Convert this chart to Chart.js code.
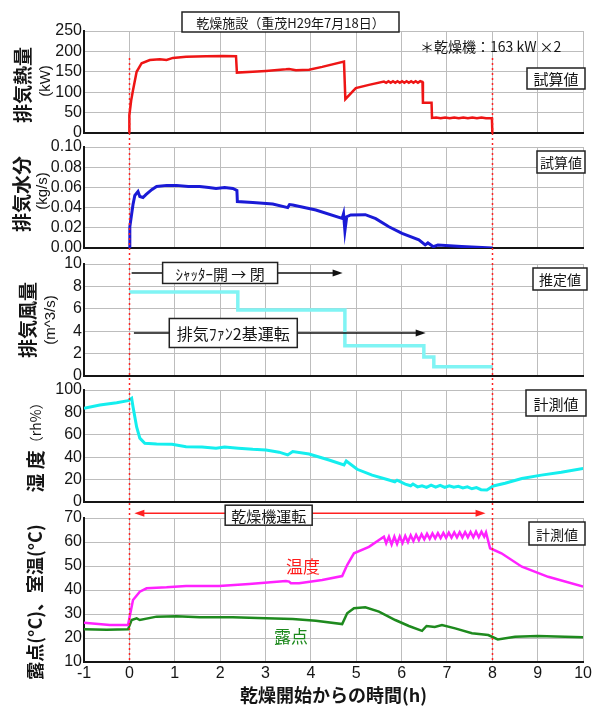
<!DOCTYPE html>
<html>
<head>
<meta charset="utf-8">
<script src="https://cdn.jsdelivr.net/npm/chart.js@4.4.1/dist/chart.umd.min.js"></script>
<style>
  body { margin: 0; background: #fff; }
  #wrap { position: relative; width: 594px; height: 706px; }
  #wrap canvas { position: absolute; left: 0; top: 0; }
</style>
</head>
<body>
<div id="wrap">
  <canvas id="heat" width="594" height="706"></canvas>
  <canvas id="moist" width="594" height="706"></canvas>
  <canvas id="air" width="594" height="706"></canvas>
  <canvas id="rh" width="594" height="706"></canvas>
  <canvas id="temp" width="594" height="706"></canvas>
</div>
<script>
// x axis: hours from drying start
const hours = [-1, 0, 1, 2, 3, 4, 5, 6, 7, 8, 9, 10];
const hourLabels = ['-1', '0', '1', '2', '3', '4', '5', '6', '7', '8', '9', '10'];

// y ticks per panel
const heatTicks = [0, 50, 100, 150, 200, 250];
const heatLabels = ['0', '50', '100', '150', '200', '250'];
const moistTicks = [0, 0.02, 0.04, 0.06, 0.08, 0.10];
const moistLabels = ['0.00', '0.02', '0.04', '0.06', '0.08', '0.10'];
const airTicks = [0, 2, 4, 6, 8, 10];
const airLabels = ['0', '2', '4', '6', '8', '10'];
const rhTicks = [0, 20, 40, 60, 80, 100];
const rhLabels = ['0', '20', '40', '60', '80', '100'];
const tempTicks = [10, 20, 30, 40, 50, 60, 70];
const tempLabels = ['10', '20', '30', '40', '50', '60', '70'];

// 排気熱量 (kW) [h, value]
const heatKW = [
  [0, 0], [0, 44], [0.04, 80], [0.08, 105], [0.16, 150], [0.27, 171], [0.45, 179], [0.67, 181],
  [0.82, 179], [0.96, 184], [1.25, 187], [1.69, 188], [2.06, 189], [2.35, 188], [2.37, 148],
  [2.72, 150], [3.01, 152], [3.45, 156], [3.52, 157], [3.67, 154], [3.96, 155], [4.25, 162],
  [4.73, 175], [4.76, 83], [4.99, 110], [5.28, 118], [5.61, 126],
  [5.66, 123], [5.71, 127], [5.76, 123], [5.81, 127], [5.86, 123], [5.91, 127], [5.96, 123],
  [6.01, 127], [6.06, 123], [6.11, 127], [6.16, 123], [6.21, 127], [6.26, 123], [6.31, 127],
  [6.36, 123], [6.41, 127], [6.46, 125], [6.47, 74], [6.66, 74], [6.67, 37],
  [6.76, 38], [6.86, 36], [6.96, 38], [7.06, 36], [7.16, 38], [7.26, 36], [7.36, 38],
  [7.46, 36], [7.56, 38], [7.66, 36], [7.76, 38], [7.86, 36], [7.99, 36], [8.0, 0]
];

// 排気水分 (kg/s)
const moistKgs = [
  [0, 0], [0.01, 0.021], [0.08, 0.043], [0.12, 0.052], [0.19, 0.056], [0.23, 0.051], [0.3, 0.050],
  [0.37, 0.053], [0.5, 0.058], [0.6, 0.061], [0.82, 0.062], [1.04, 0.062], [1.3, 0.061],
  [1.55, 0.061], [1.75, 0.060], [1.91, 0.059], [2.1, 0.060], [2.28, 0.059], [2.37, 0.057],
  [2.38, 0.046], [2.72, 0.045], [3.16, 0.0436], [3.49, 0.040], [3.53, 0.043], [3.6, 0.0426],
  [4.11, 0.0376], [4.69, 0.0294], [4.72, 0.034], [4.75, 0.017], [4.79, 0.031], [4.88, 0.0327],
  [5.2, 0.033], [5.43, 0.029], [5.72, 0.021], [6.01, 0.0145], [6.38, 0.008], [6.52, 0.003],
  [6.58, 0.005], [6.7, 0.0013], [6.8, 0.003], [7.32, 0.0015], [8.0, 0]
];

// 排気風量 (m^3/s), stepped
const airM3s = [[0, 7.5], [2.39, 5.9], [4.75, 2.7], [6.49, 1.7], [6.71, 0.83], [8.0, 0.83]];

// 湿度 (rh%)
const rhPct = [
  [-1, 83.6], [-0.65, 86.6], [-0.28, 88.7], [-0.03, 90.5], [0.05, 92.6], [0.08, 85], [0.16, 67],
  [0.23, 57], [0.34, 52.4], [0.6, 51.8], [0.94, 51.5], [1.25, 49.4], [1.6, 49], [1.91, 47.9],
  [2.1, 49], [2.4, 48], [2.72, 47], [3.01, 46.4], [3.3, 44.5], [3.49, 42], [3.6, 45], [3.96, 42.9],
  [4.4, 37.5], [4.73, 33], [4.78, 36.6], [5.02, 29.2], [5.35, 24], [5.72, 19.6], [5.85, 18],
  [5.9, 19.5], [6.08, 16], [6.2, 14.5], [6.25, 16], [6.35, 13.5], [6.45, 14.5], [6.55, 13],
  [6.65, 15], [6.75, 13.2], [6.85, 14.8], [6.95, 13], [7.05, 14.5], [7.15, 13.2], [7.25, 14],
  [7.35, 12.5], [7.45, 13.5], [7.55, 11.8], [7.65, 12.8], [7.75, 11], [7.88, 10.7], [8.02, 14.3],
  [8.28, 16.7], [8.65, 21], [9.08, 24], [9.52, 26.5], [10, 30]
];

// 室温 (°C)
const roomTemp = [
  [-1, 26.4], [-0.43, 25.4], [-0.03, 25.4], [0, 28.2], [0.08, 35.8], [0.23, 39.3], [0.38, 40.7],
  [0.82, 41.1], [1.25, 41.7], [1.98, 41.7], [2.64, 42.5], [3.45, 43.75], [3.52, 43.5], [3.56, 42.8],
  [3.74, 42.8], [4.25, 44.2], [4.69, 45.8], [4.8, 50.4], [4.95, 55.3], [5.28, 58], [5.61, 62.2],
  [5.66, 59.5], [5.72, 62.2], [5.78, 59], [5.84, 62.2], [5.9, 59.2], [5.96, 62.3], [6.02, 59.6],
  [6.08, 62.5], [6.14, 60], [6.2, 62.8], [6.26, 60.4], [6.32, 63], [6.38, 60.8], [6.44, 63.2],
  [6.5, 61.1], [6.56, 63.4], [6.62, 61.3], [6.68, 63.6], [6.74, 61.5], [6.8, 63.7], [6.86, 61.6],
  [6.92, 63.8], [6.98, 61.7], [7.04, 63.9], [7.1, 61.8], [7.16, 64], [7.22, 61.9], [7.28, 64.1],
  [7.34, 61.9], [7.4, 64.1], [7.46, 62], [7.52, 64.2], [7.58, 62], [7.64, 64.3], [7.7, 62],
  [7.76, 64.3], [7.82, 62.2], [7.86, 64], [7.95, 57.4], [8.2, 55.3], [8.65, 49.7], [9.23, 45.5],
  [10, 41.4]
];

// 露点 (°C)
const dewPoint = [
  [-1, 23.6], [-0.5, 23.4], [-0.03, 23.6], [0.05, 27.5], [0.16, 28.2], [0.23, 27.5], [0.6, 28.9],
  [1.04, 29.1], [1.55, 28.6], [2.28, 28.6], [3.01, 28.2], [3.6, 27.9], [4.11, 27.2], [4.69, 25.8],
  [4.8, 30.3], [4.95, 32.4], [5.2, 32.8], [5.5, 31], [5.86, 27.5], [6.16, 25], [6.45, 23],
  [6.55, 25], [6.73, 24.6], [6.89, 25.4], [7.18, 24], [7.55, 22], [7.91, 21.25], [8.12, 19.4],
  [8.5, 20.5], [9.0, 20.8], [10, 20.3]
];

const H = 706;
const AXIS_W = 84;
const GRID = '#bdbdbd';
const INK = '#151515';
const NUM = '"Liberation Sans", Arial, sans-serif';
const JP = '"Noto Sans CJK JP", sans-serif';

const pts = arr => arr.map(p => ({ x: p[0], y: p[1] }));

function line(data, color, width, extra) {
  return Object.assign({ data: pts(data), borderColor: color, borderWidth: width,
    pointRadius: 0, tension: 0, fill: false }, extra || {});
}

// rotated axis caption, parts = [[text, font], ...]
function sideTitle(ctx, x, y, parts) {
  ctx.save();
  ctx.translate(x, y);
  ctx.rotate(-Math.PI / 2);
  ctx.textBaseline = 'middle';
  ctx.textAlign = 'left';
  ctx.fillStyle = INK;
  let total = 0;
  parts.forEach(p => { ctx.font = p[1]; total += ctx.measureText(p[0]).width; });
  let pos = -total / 2;
  parts.forEach(p => {
    ctx.font = p[1];
    ctx.fillText(p[0], pos, 0);
    pos += ctx.measureText(p[0]).width;
  });
  ctx.restore();
}

function box(ctx, cx, cy, w, h, text, font) {
  ctx.save();
  ctx.fillStyle = '#fff';
  ctx.fillRect(cx - w / 2, cy - h / 2, w, h);
  ctx.lineWidth = 1.5;
  ctx.strokeStyle = '#222';
  ctx.strokeRect(cx - w / 2, cy - h / 2, w, h);
  ctx.fillStyle = INK;
  ctx.font = font;
  ctx.textAlign = 'center';
  ctx.textBaseline = 'middle';
  ctx.fillText(text, cx, cy + 1);
  ctx.restore();
}

function head(ctx, x, y, dir) {
  ctx.beginPath();
  ctx.moveTo(x, y);
  ctx.lineTo(x - dir * 10, y - 3.5);
  ctx.lineTo(x - dir * 10, y + 3.5);
  ctx.closePath();
  ctx.fill();
}

function arrow(ctx, x1, x2, y, color, both) {
  ctx.save();
  ctx.strokeStyle = color;
  ctx.fillStyle = color;
  ctx.lineWidth = 1.5;
  ctx.beginPath();
  ctx.moveTo(x1 + (both ? 8 : 0), y);
  ctx.lineTo(x2 - 8, y);
  ctx.stroke();
  head(ctx, x2, y, 1);
  if (both) head(ctx, x1, y, -1);
  ctx.restore();
}

function panel(id, top, bottom, ticks, labels, datasets, deco, isLast) {
  return new Chart(document.getElementById(id), {
    type: 'line',
    data: { datasets },
    options: {
      responsive: false,
      animation: false,
      devicePixelRatio: 1,
      layout: { padding: { top: top, left: 0, right: 9, bottom: isLast ? 0 : H - bottom } },
      plugins: { legend: { display: false }, tooltip: { enabled: false } },
      scales: {
        x: {
          type: 'linear',
          min: -1,
          max: 10,
          afterBuildTicks: s => { s.ticks = hours.map(v => ({ value: v })); },
          afterFit: s => { s.height = isLast ? H - bottom : 0; },
          grid: { color: GRID, lineWidth: 1, drawTicks: false },
          border: { color: INK, width: 2 },
          ticks: {
            display: isLast, padding: 2, maxRotation: 0, autoSkip: false, color: INK,
            font: { family: NUM, size: 16 },
            callback: (v, i) => hourLabels[i]
          },
          title: {
            display: isLast, text: '乾燥開始からの時間(h)', color: INK,
            font: { family: JP, size: 18, weight: 'bold' }, padding: { top: 0, bottom: 0 }
          }
        },
        y: {
          type: 'linear',
          min: ticks[0],
          max: ticks[ticks.length - 1],
          afterBuildTicks: s => { s.ticks = ticks.map(v => ({ value: v })); },
          afterFit: s => { s.width = AXIS_W; },
          grid: { color: GRID, lineWidth: 1, drawTicks: false },
          border: { color: INK, width: 2 },
          ticks: {
            padding: 2, autoSkip: false, color: INK, font: { family: NUM, size: 16 },
            callback: (v, i) => labels[i]
          }
        }
      }
    },
    plugins: [{ id: id + 'Deco', afterDraw: chart => deco(chart.ctx, chart) }]
  });
}

// 1: 排気熱量
panel('heat', 31, 133, heatTicks, heatLabels, [line(heatKW, '#ee1515', 2.5)], ctx => {
  sideTitle(ctx, 23, 85, [['排気熱量', 'bold 19px ' + JP]]);
  sideTitle(ctx, 46, 81, [['(kW)', '15px ' + NUM]]);
  box(ctx, 290.5, 22, 217, 20, '乾燥施設（重茂H29年7月18日）', '13px ' + JP);
  ctx.save();
  ctx.fillStyle = INK;
  ctx.font = '14px ' + JP;
  ctx.textBaseline = 'middle';
  ctx.fillText('＊乾燥機：163 kW ×2', 420, 47);
  ctx.restore();
  box(ctx, 556, 78.5, 58, 21, '試算値', '15px ' + JP);
});

// 2: 排気水分
panel('moist', 147, 248, moistTicks, moistLabels, [line(moistKgs, '#1a1ad6', 3)], ctx => {
  sideTitle(ctx, 22, 194, [['排気水分', 'bold 19px ' + JP]]);
  sideTitle(ctx, 43, 191, [['(kg/s)', '15px ' + NUM]]);
  box(ctx, 561, 162, 48, 22, '試算値', '14px ' + JP);
});

// 3: 排気風量
panel('air', 264, 376, airTicks, airLabels, [line(airM3s, '#80f4f4', 3.5, { stepped: 'before' })], (ctx, chart) => {
  const x = chart.scales.x, y = chart.scales.y;
  sideTitle(ctx, 28, 320, [['排気風量', 'bold 19px ' + JP]]);
  sideTitle(ctx, 51, 320, [['(m^3/s)', '15px ' + NUM]]);
  box(ctx, 560, 279, 54, 22, '推定値', '14px ' + JP);
  const ys = y.getPixelForValue(9.2);
  arrow(ctx, x.getPixelForValue(0.05), x.getPixelForValue(4.7), ys, '#111', false);
  box(ctx, x.getPixelForValue(2.0), ys, 115, 21, 'ｼｬｯﾀｰ開 → 閉', '15px ' + JP);
  const yf = y.getPixelForValue(3.84);
  arrow(ctx, x.getPixelForValue(0.1), x.getPixelForValue(6.53), yf, '#111', false);
  box(ctx, x.getPixelForValue(2.29), yf, 128, 29, '排気ﾌｧﾝ2基運転', '16px ' + JP);
});

// 4: 湿度
panel('rh', 390, 502, rhTicks, rhLabels, [line(rhPct, '#14eeee', 3)], ctx => {
  sideTitle(ctx, 36, 444, [['湿 度', 'bold 19px ' + JP], ['（rh%）', '14px ' + JP]]);
  box(ctx, 556, 403, 60, 26, '計測値', '15px ' + JP);
});

// 5: 室温・露点
panel('temp', 518, 662, tempTicks, tempLabels,
  [line(roomTemp, '#ff22ff', 2.5), line(dewPoint, '#1e8a1e', 2.5)], (ctx, chart) => {
  const x = chart.scales.x, y = chart.scales.y;
  sideTitle(ctx, 35, 602, [['露点(°C)、室温(°C)', 'bold 18px ' + JP]]);
  box(ctx, 557, 533.5, 56, 23, '計測値', '14px ' + JP);
  const ya = y.getPixelForValue(72);
  arrow(ctx, x.getPixelForValue(0.11), x.getPixelForValue(7.85), ya, '#ff2020', true);
  box(ctx, x.getPixelForValue(3.07), ya + 2, 87, 20, '乾燥機運転', '15px ' + JP);
  ctx.save();
  ctx.font = '17px ' + JP;
  ctx.textAlign = 'center';
  ctx.textBaseline = 'middle';
  ctx.fillStyle = '#ff1a1a';
  ctx.fillText('温度', 303, 567);
  ctx.fillStyle = '#1e8a1e';
  ctx.fillText('露点', 291, 637);
  // red dotted markers at drying start / end across all panels
  ctx.strokeStyle = '#ff2020';
  ctx.lineWidth = 1.5;
  ctx.setLineDash([2, 3]);
  [0, 8].forEach(h => {
    const px = Math.round(x.getPixelForValue(h)) + 0.5;
    ctx.beginPath();
    ctx.moveTo(px, 58);
    ctx.lineTo(px, 662);
    ctx.stroke();
  });
  ctx.restore();
}, true);
</script>
</body>
</html>
